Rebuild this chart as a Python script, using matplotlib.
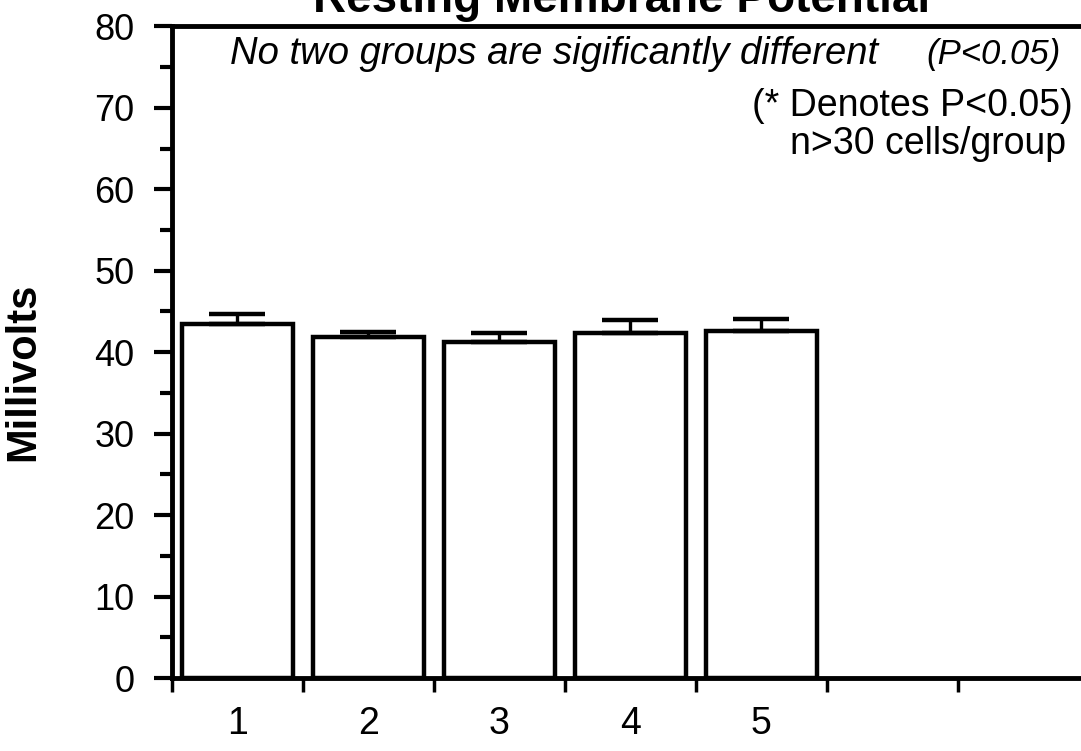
import matplotlib.pyplot as plt
import numpy as np

plt.rcParams['font.family'] = ['Liberation Sans', 'DejaVu Sans']

groups = ['1', '2', '3', '4', '5']
means = [43.5, 41.9, 41.3, 42.3, 42.6]
sems = [1.2, 0.6, 1.0, 1.6, 1.5]

x = np.arange(len(groups)) + 0.5

fig = plt.figure(figsize=(10.81, 7.51), dpi=100)
ax = fig.add_axes([0.159, 0.097, 0.848, 0.868])

ax.bar(x, means, width=0.85, color='white', edgecolor='black', linewidth=3.2)
ax.errorbar(x, means, yerr=[np.zeros(len(sems)), sems], fmt='none',
            ecolor='black', elinewidth=2.4, capsize=20, capthick=3.2)

ax.set_xlim(0, 7)
ax.set_ylim(0, 80)

# category boundaries get the tick marks, labels sit in the middle
ax.set_xticks(np.arange(0, 8))
ax.set_xticklabels([])
ax.set_xticks(x, minor=True)
ax.set_xticklabels(groups, minor=True, fontsize=27)
ax.tick_params(axis='x', which='major', direction='out', length=10, width=2.5)
ax.tick_params(axis='x', which='minor', length=0, pad=20)

ax.set_yticks(np.arange(0, 81, 10))
ax.set_yticks(np.arange(0, 81, 5), minor=True)
ax.tick_params(axis='y', which='major', direction='out', length=13, width=3,
               labelsize=26, pad=14)
ax.tick_params(axis='y', which='minor', direction='out', length=8.5, width=3)

for side in ['left', 'bottom', 'top']:
    ax.spines[side].set_linewidth(3.5)
ax.spines['right'].set_visible(False)

ax.set_ylabel('Millivolts', fontsize=30, fontweight='bold')
ax.yaxis.set_label_coords(-0.14, 0.47)

ax.text(0.063, 0.942, 'No two groups are sigificantly different',
        transform=ax.transAxes, fontsize=27.5, style='italic', va='baseline')
ax.text(0.97, 0.942, '(P<0.05)',
        transform=ax.transAxes, fontsize=25, style='italic', va='baseline',
        ha='right')
ax.text(0.983, 0.905, '(* Denotes P<0.05)', transform=ax.transAxes,
        fontsize=27, ha='right', va='top')
ax.text(0.975, 0.847, 'n>30 cells/group', transform=ax.transAxes,
        fontsize=27, ha='right', va='top')

fig.text(0.575, 1.0, 'Resting Membrane Potential', fontsize=33,
         fontweight='bold', ha='center', va='center')

fig.savefig('out.png', dpi=100)
